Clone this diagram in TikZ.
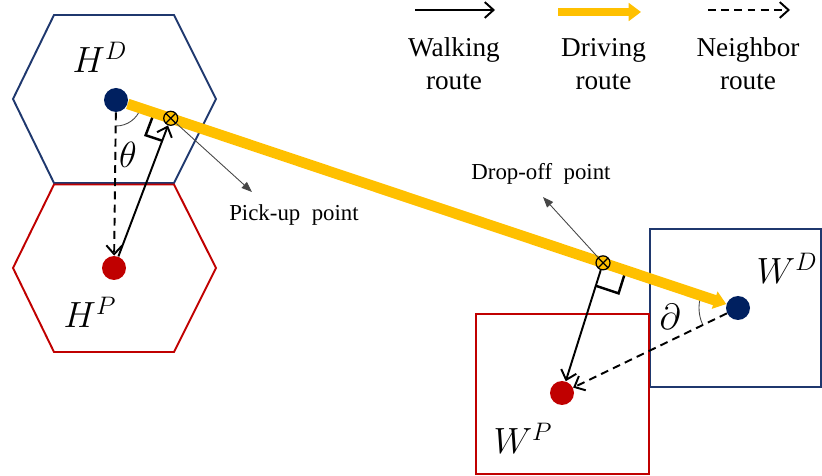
\documentclass[tikz,border=0pt]{standalone}
\usepackage{fontspec}
\setmainfont{Liberation Serif}
\usetikzlibrary{arrows.meta,positioning,calc}
\definecolor{navy}{RGB}{0,32,96}
\definecolor{navyline}{RGB}{31,56,110}
\definecolor{darkred}{RGB}{192,0,0}
\definecolor{gold}{RGB}{255,192,0}
\definecolor{black70}{RGB}{70,70,70}
\pgfdeclarelayer{background}
\pgfsetlayers{background,main}

\begin{document}
\begin{tikzpicture}[>=Stealth,
    dot/.style={circle, fill=#1, inner sep=0pt, minimum size=0.48cm},
    xmark/.style={circle, draw=black, fill=gold, line width=0.7pt, inner sep=0pt, minimum size=0.28cm,
        path picture={\draw[line width=0.7pt] (path picture bounding box.north west) -- (path picture bounding box.south east)
            (path picture bounding box.north east) -- (path picture bounding box.south west);}},
    walk/.style={-{Straight Barb[length=5pt,width=9pt]}, line width=1.1pt},
    neigh/.style={walk, dash pattern=on 4.5pt off 3pt},
    drive/.style={-{Triangle[length=7pt,width=10pt]}, gold},
    callout/.style={-{Triangle[length=6pt,width=4.5pt]}, black70, line width=0.5pt},
    rightmark/.style={line width=1.4pt},
    anglearc/.style={black70, line width=0.5pt},
    mathlbl/.style={font=\fontsize{20}{24}\selectfont},
    legend/.style={align=center, font=\fontsize{15.5}{18.8}\selectfont},
    pointlbl/.style={font=\fontsize{13}{15}\selectfont}]

    \useasboundingbox (0,0) rectangle (16.44,9.52);

    % Points
    \node[dot=navy] (hd) at (2.32,7.52) {};
    \node[dot=darkred] (hp) at (2.28,4.16) {};
    \node[dot=navy] (wd) at (14.76,3.36) {};
    \node[dot=darkred] (wp) at (11.24,1.66) {};
    \node[xmark] (pu) at ($(hd)!0.088!(wd)$) {};
    \node[xmark] (do) at ($(hd)!0.783!(wd)$) {};

    \begin{pgfonlayer}{background}
        % Zones
        \draw[navyline, line width=1.1pt] (0.26,7.54) -- (1.08,9.22) -- (3.48,9.22) -- (4.32,7.54) -- (3.48,5.86) -- (1.08,5.86) -- cycle;
        \draw[darkred, line width=1.1pt] (0.26,4.16) -- (1.08,5.83) -- (3.48,5.83) -- (4.32,4.16) -- (3.48,2.48) -- (1.08,2.48) -- cycle;
        \draw[navyline, line width=1.1pt] (13.0,1.78) rectangle (16.42,4.94);
        \draw[darkred, line width=1.1pt] (9.52,0.04) rectangle (12.98,3.24);

        % Right angles
        \coordinate (pa) at ($(pu)!0.35cm!(hd)$);
        \coordinate (pb) at ($(pu)!0.48cm!(hp)$);
        \draw[rightmark] (pa) -- ($(pa)+(pb)-(pu)$) -- (pb);
        \coordinate (da) at ($(do)!0.48cm!(wd)$);
        \coordinate (db) at ($(do)!0.48cm!(wp)$);
        \draw[rightmark] (da) -- ($(da)+(db)-(do)$) -- (db);

        % Angles
        \draw[anglearc] ($(hd)+(-90:0.52)$) arc[start angle=-90, end angle=-18.5, radius=0.52];
        \draw[anglearc] ($(wd)+(161.5:0.78)$) arc[start angle=161.5, end angle=206, radius=0.78];

        % Driving route
        \draw[drive, line width=6pt] (hd) -- (wd);
    \end{pgfonlayer}

    % Walking and neighbor routes
    \draw[neigh] (hd) -- (hp);
    \draw[walk] (hp) -- (pu);
    \draw[walk] (do) -- (wp);
    \draw[neigh] (wd) -- (wp);

    % Labels
    \node[mathlbl] (hdlbl) at (2.0,8.38) {$H^D$};
    \node[mathlbl] (hplbl) at (1.8,3.28) {$H^P$};
    \node[mathlbl] (wdlbl) at (15.74,4.16) {$W^D$};
    \node[mathlbl] (wplbl) at (10.46,0.76) {$W^P$};
    \node[mathlbl] (theta) at (2.56,6.42) {$\theta$};
    \node[mathlbl] (partial) at (13.4,3.18) {$\partial$};

    % Callouts
    \coordinate (putip) at (5.04,5.68);
    \draw[callout] (pu) -- (putip);
    \node[pointlbl] (putxt) at (5.88,5.22) {Pick-up\ \ point};
    \coordinate (dotip) at (10.86,5.58);
    \draw[callout] (do) -- (dotip);
    \node[pointlbl] (dotxt) at (10.82,6.04) {Drop-off\ \ point};

    % Legend
    \coordinate (lw1) at (8.3,9.32);
    \coordinate (lw2) at (9.9,9.32);
    \draw[walk] (lw1) -- (lw2);
    \node[legend] (lwtxt) at (9.08,8.24) {Walking\\route};
    \coordinate (ld1) at (11.16,9.28);
    \coordinate (ld2) at (12.82,9.28);
    \draw[drive, line width=4.7pt] (ld1) -- (ld2);
    \node[legend] (ldtxt) at (12.07,8.24) {Driving\\route};
    \coordinate (ln1) at (14.16,9.32);
    \coordinate (ln2) at (15.8,9.32);
    \draw[neigh] (ln1) -- (ln2);
    \node[legend] (lntxt) at (14.96,8.24) {Neighbor\\route};

\end{tikzpicture}
\end{document}
